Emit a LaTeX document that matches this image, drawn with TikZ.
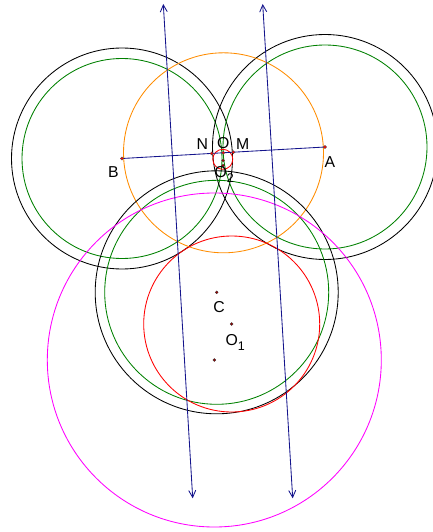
\documentclass[tikz,border=0pt]{standalone}
\usepackage{fontspec}
\setmainfont{Liberation Sans}
\usetikzlibrary{arrows.meta}
\definecolor{ggreen}{RGB}{0,128,0}
\definecolor{gorange}{RGB}{255,140,0}
\definecolor{gblue}{RGB}{20,20,140}
\definecolor{gmag}{RGB}{255,0,255}
\newcommand{\subtwo}[1]{\raisebox{-0.33em}{\fontsize{12.5}{12.5}\selectfont #1}}
\begin{document}
\begin{tikzpicture}[x=1pt,y=-1pt,
  curve/.style={line width=0.85pt},
  bluev/.style={draw=gblue,line width=0.85pt,{Straight Barb[length=7pt,width=7pt]}-{Straight Barb[length=7pt,width=7pt]}},
  pt/.style={circle,fill=red,draw=black!70,line width=0.3pt,inner sep=0pt,minimum size=3.2pt},
  dpt/.style={circle,fill=red!60!black,draw=black!80,line width=0.3pt,inner sep=0pt,minimum size=3pt},
  lab/.style={font=\fontsize{15.8}{15.8}\selectfont,inner sep=0pt}]
\useasboundingbox (0,0) rectangle (433,532);
% points
\coordinate (A) at (325,147);
\coordinate (B) at (122,158.5);
\coordinate (Mid) at (223.5,152.8);
\coordinate (C) at (216.7,292.3);
\coordinate (O1) at (231.7,324);
\coordinate (P) at (214.3,360);
\coordinate (Q) at (222.8,159.3);
% circles
\draw[curve,black] (B) circle[radius=110.5pt];
\draw[curve,ggreen] (B) circle[radius=100pt];
\draw[curve,black] (A) circle[radius=112.5pt];
\draw[curve,ggreen] (A) circle[radius=102pt];
\draw[curve,gorange] (Mid) circle[radius=100pt];
\draw[curve,black] (C) circle[radius=121.5pt];
\draw[curve,ggreen] (C) circle[radius=112pt];
\draw[curve,red] (O1) circle[radius=88pt];
\draw[curve,gmag] (P) circle[radius=167pt];
\draw[curve,red] (Q) circle[radius=10pt];
% line AB
\draw[curve,gblue] (B) -- (A);
% blue vectors
\coordinate (t1) at (163.3,4);
\coordinate (b1) at (192.7,498.3);
\coordinate (t2) at (262.7,4);
\coordinate (b2) at (292.7,498.3);
\draw[bluev] (t1) -- (b1);
\draw[bluev] (t2) -- (b2);
% dots
\node[pt] (pA) at (A) {};
\node[pt] (pB) at (B) {};
\node[pt] (pN) at (211.7,153.4) {};
\node[pt] (pO) at (223.3,152.8) {};
\node[pt] (pM) at (233.3,152.2) {};
\node[dpt] (pq1) at (223,160.5) {};
\node[dpt] (pO2) at (223,165.5) {};
\node[dpt] (pC) at (C) {};
\node[dpt] (pO1) at (O1) {};
\node[dpt] (pP) at (P) {};
% labels
\node[lab] (lB) at (113.3,171.7) {B};
\node[lab] (lA) at (330,161.7) {A};
\node[lab] (lN) at (202.3,144) {N};
\node[lab] (lO) at (223.3,143.3) {O};
\node[lab] (lM) at (242.7,144) {M};
\node[lab,anchor=base west] (lO2) at (214.5,177) {O\subtwo{2}};
\node[lab] (lC) at (219,306.7) {C};
\node[lab,anchor=base west] (lO1) at (225.3,345.5) {O\subtwo{1}};
\end{tikzpicture}
\end{document}
